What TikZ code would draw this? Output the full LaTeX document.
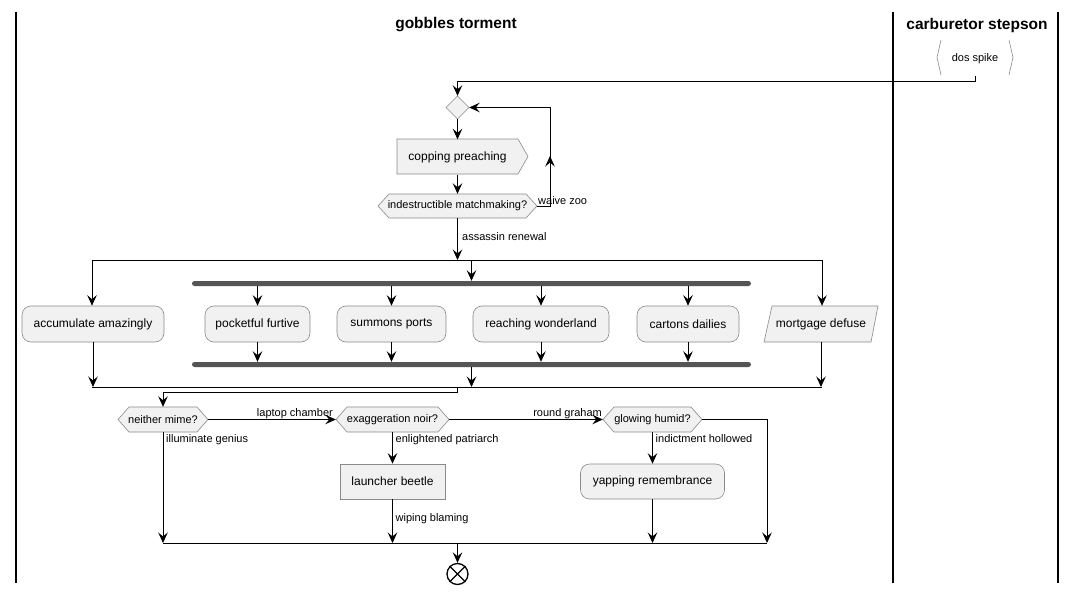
\documentclass[tikz,border=0pt]{standalone}
\usepackage{fontspec}
\setmainfont{Liberation Sans}
\usetikzlibrary{arrows.meta,calc}
\definecolor{nodefill}{HTML}{F1F1F1}
\definecolor{bordc}{HTML}{8A8A8A}
\definecolor{barc}{HTML}{555555}
\tikzset{
  box/.style={draw=bordc, fill=nodefill, line width=0.6pt, inner sep=0pt, minimum height=36pt, font=\fontsize{12}{14}\selectfont},
  rbox/.style={box, rounded corners=9pt},
  shp/.style={draw=bordc, fill=nodefill, line width=0.6pt},
  txt/.style={inner sep=0pt, font=\fontsize{11}{13}\selectfont},
  btxt/.style={inner sep=0pt, font=\fontsize{12}{14}\selectfont},
  lbl/.style={inner sep=0pt, anchor=base west, font=\fontsize{11}{13}\selectfont},
  lblr/.style={inner sep=0pt, anchor=base east, font=\fontsize{11}{13}\selectfont},
  ttl/.style={inner sep=0pt, font=\fontsize{15.5}{18}\selectfont\bfseries},
  arr/.style={-{Stealth[length=10.5pt,width=9.5pt,inset=4pt]}, line width=0.9pt},
  ln/.style={line width=0.9pt},
  bar/.style={fill=barc, draw=none, rounded corners=2.5pt, inner sep=0pt, minimum height=5pt},
  lane/.style={line width=1.6pt},
}
\newcommand{\hexshape}[4]{\draw[shp] (#1,#3) -- ({#1+11},{#3-#4/2}) -- ({#2-11},{#3-#4/2}) -- (#2,#3) -- ({#2-11},{#3+#4/2}) -- ({#1+11},{#3+#4/2}) -- cycle;}
\begin{document}
\begin{tikzpicture}[x=1pt,y=-1pt]
\fill[white] (0,0) rectangle (1076,594);
\useasboundingbox (0,0) rectangle (1076,594);
% swimlanes
\draw[lane] (16,12) -- (16,583);
\draw[lane] (893,12) -- (893,583);
\draw[lane] (1058,12) -- (1058,583);
\node[ttl] (t1) at (456,25) {gobbles torment};
\node[ttl] (t2) at (977,25) {carburetor stepson};
% dos spike
\draw[bordc, line width=0.6pt] (941,40) -- (937,57.5) -- (941,75);
\draw[bordc, line width=0.6pt] (1009,40) -- (1013,57.5) -- (1009,75);
\node[txt, minimum width=72pt, minimum height=35pt] (dos) at (975,58.5) {dos spike};
% diamond
\draw[shp] (446,107.5) -- (457.5,96) -- (469,107.5) -- (457.5,119) -- cycle;
\node[inner sep=0pt, minimum width=23pt, minimum height=23pt] (dia) at (457.5,107.5) {};
% copping preaching
\draw[shp] (397,139) -- (518,139) -- (528,156.5) -- (518,174) -- (397,174) -- cycle;
\node[btxt, minimum width=131pt, minimum height=35pt] (cop) at (457.5,157) {copping preaching};
% indestructible
\hexshape{378}{537}{206}{24}
\node[txt, minimum width=159pt, minimum height=24pt] (ind) at (457.5,206) {indestructible matchmaking?};
% parallel nodes
\node[rbox, minimum width=142pt] (acc) at (93,324) {accumulate amazingly};
\node[rbox, minimum width=105pt] (poc) at (257.5,324) {pocketful furtive};
\node[rbox, minimum width=109pt] (sum) at (391.5,324) {summons ports};
\node[rbox, minimum width=136pt] (rea) at (541,324) {reaching wonderland};
\node[rbox, minimum width=102pt] (car) at (688,324) {cartons dailies};
\draw[shp] (772,306) -- (878,306) -- (871,342) -- (764,342) -- cycle;
\node[btxt, minimum width=107pt, minimum height=36pt] (mor) at (821,324) {mortgage defuse};
% bars
\node[bar, minimum width=559pt] (fork) at (471.5,283.5) {};
\node[bar, minimum width=559pt] (join) at (471.5,364.5) {};
% decisions
\hexshape{118}{208}{419.5}{25}
\node[txt, minimum width=90pt, minimum height=25pt] (nei) at (163,419.5) {neither mime?};
\hexshape{336}{449}{419.5}{25}
\node[txt, minimum width=113pt, minimum height=25pt] (exa) at (392.5,419.5) {exaggeration noir?};
\hexshape{603}{702}{419.5}{25}
\node[txt, minimum width=99pt, minimum height=25pt] (glo) at (652.5,419.5) {glowing humid?};
\node[box, minimum width=105pt, minimum height=35pt] (lau) at (392.5,481.5) {launcher beetle};
\node[rbox, minimum width=144pt, minimum height=35pt] (yap) at (652.5,481.5) {yapping remembrance};
% end
\node[circle, draw=black, line width=1.3pt, minimum size=21pt, inner sep=0pt] (endc) at (457.5,574) {};
\draw[line width=1.3pt] (endc.north east) -- (endc.south west);
\draw[line width=1.3pt] (endc.north west) -- (endc.south east);
% coordinates
\coordinate (loopA) at (550,206);
\coordinate (loopB) at (550,156);
\coordinate (loopC) at (550,161);
\coordinate (loopD) at (550,107.5);
\coordinate (sp) at (457.5,260);
\coordinate (spL) at (92,260);
\coordinate (spR) at (822,260);
\coordinate (mg) at (457.5,387);
\coordinate (mgL) at (92,387);
\coordinate (mgR) at (822,387);
\coordinate (mg2) at (457.5,543);
\coordinate (mg2L) at (163,543);
\coordinate (mg2R) at (767,543);
\coordinate (gloR) at (767,419.5);
% connectors
\draw[arr] (dos.south) -- ++(0,5) -| (dia.north);
\draw[arr] (dia.south) -- (cop.north);
\draw[arr] (cop.south) -- (ind.north);
\draw[arr] (ind.east) -- (loopA) -- (loopB);
\draw[arr] (loopC) -- (loopD) -- (dia.east);
\node[lbl] (lwz) at (538,204) {waive zoo};
\draw[arr] (ind.south) -- (sp);
\node[lbl] (lar) at (462,240.5) {assassin renewal};
\draw[ln] (spL) -- (spR);
\draw[arr] (spL) -- (spL |- acc.north);
\draw[arr] (sp -| fork.north) -- (fork.north);
\draw[arr] (spR) -- (spR |- mor.north);
\foreach \n in {poc,sum,rea,car}{
  \draw[arr] (fork.south -| \n.north) -- (\n.north);
  \draw[arr] (\n.south) -- (\n.south |- join.north);
}
\draw[ln] (mgL) -- (mgR);
\draw[arr] (acc.south) -- (acc.south |- mg);
\draw[arr] (join.south) -- (join.south |- mg);
\draw[arr] (mor.south) -- (mor.south |- mg);
\draw[arr] (mg) -- ++(0,5) -| (nei.north);
\draw[arr] (nei.east) -- (exa.west);
\node[lblr] (llc) at (333,416.5) {laptop chamber};
\draw[arr] (exa.east) -- (glo.west);
\node[lblr] (lrg) at (602,416.5) {round graham};
\draw[arr] (nei.south) -- (nei.south |- mg2);
\node[lbl] (lig) at (166,442.5) {illuminate genius};
\draw[arr] (exa.south) -- (lau.north);
\node[lbl] (lep) at (395.5,442.5) {enlightened patriarch};
\draw[arr] (lau.south) -- (lau.south |- mg2);
\node[lbl] (lwb) at (395.5,521.5) {wiping blaming};
\draw[arr] (glo.south) -- (yap.north);
\node[lbl] (lih) at (655.5,442.5) {indictment hollowed};
\draw[arr] (yap.south) -- (yap.south |- mg2);
\draw[arr] (glo.east) -- (gloR) -- (mg2R);
\draw[ln] (mg2L) -- (mg2R);
\draw[arr] (mg2) -- (endc.north);
\end{tikzpicture}
\end{document}
